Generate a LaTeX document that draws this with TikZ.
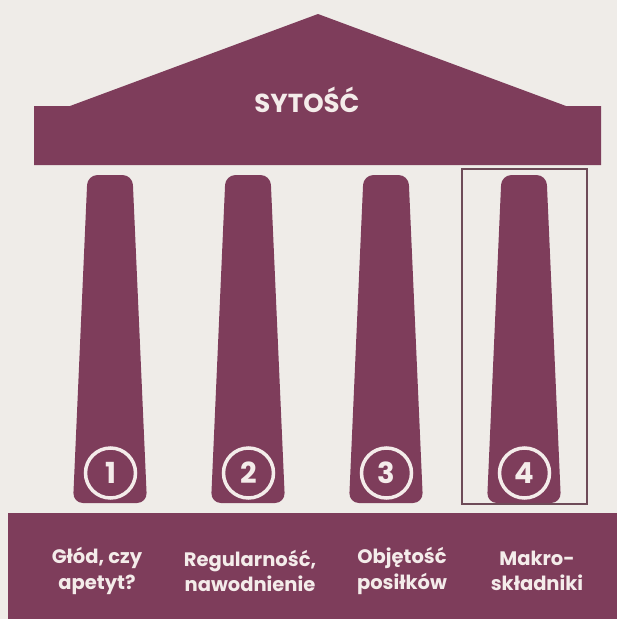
\documentclass[tikz,border=0pt]{standalone}
\usepackage{fontspec}
\setmainfont{Poppins}[UprightFont=* Bold]
\definecolor{plum}{HTML}{7E3D5B}
\definecolor{bg}{HTML}{EFECE8}
\definecolor{lite}{HTML}{F4ECEA}
\definecolor{frame}{HTML}{6E4B58}
\begin{document}
\begin{tikzpicture}[x=1pt,y=-1pt,
  pillar/.style={fill=plum,rounded corners=10pt},
  numring/.style={circle,draw=lite,line width=3.5pt,minimum size=50pt,inner sep=0pt,text=lite,font=\fontsize{29}{30}\selectfont},
  lbl/.style={text=lite,align=center,font=\fontsize{19.5}{25.5}\selectfont},
]
\useasboundingbox (0,0) rectangle (617,619);
\fill[bg] (0,0) rectangle (617,619);
% roof
\fill[plum] (34,106) -- (70,106) -- (318,14) -- (566,106) -- (601,106) -- (601,165) -- (34,165) -- cycle;
\node[text=lite,font=\fontsize{26}{30}\selectfont,anchor=base] (title) at (307,112) {SYTOŚĆ};
% highlight frame
\draw[frame,line width=1.4pt] (462,169) rectangle (587,504);
% pillars
\foreach \i/\c in {1/110,2/248,3/386,4/524}{
  \fill[pillar] (\c-22.5,175) -- (\c+22.5,175) -- (\c+37,503) -- (\c-37,503) -- cycle;
  \node[numring] (n\i) at (\c+0.5,473) {\i};
}
% base
\fill[plum] (8,513) rectangle (617,619);
\node[lbl] (l1) at (97,571) {Głód, czy\\apetyt?};
\node[lbl] (l2) at (250,571) {Regularność,\\nawodnienie};
\node[lbl] (l3) at (402,571) {Objętość\\posiłków};
\node[lbl] (l4) at (537,571) {Makro-\\składniki};
\end{tikzpicture}
\end{document}
